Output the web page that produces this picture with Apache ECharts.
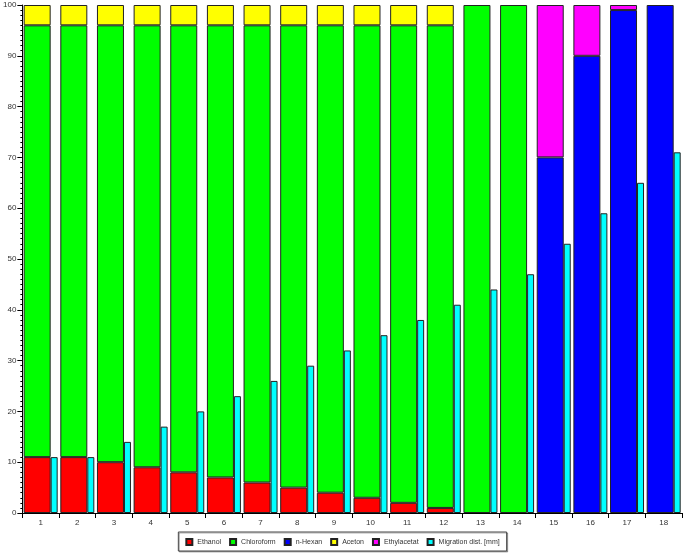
<!DOCTYPE html>
<html><head><meta charset="utf-8">
<script src="https://cdn.jsdelivr.net/npm/echarts@6/dist/echarts.min.js"></script>
<style>html,body{margin:0;padding:0;background:#fff}#c{width:685px;height:553px}</style>
</head><body><div id="c"></div>
<script>
const categories = ['1','2','3','4','5','6','7','8','9','10','11','12','13','14','15','16','17','18'];
const ethanol     = [11,11,10,9,8,7,6,5,4,3,2,1,null,null,null,null,null,null];
const chloroform  = [85,85,86,87,88,89,90,91,92,93,94,95,100,100,null,null,null,null];
const nHexan      = [null,null,null,null,null,null,null,null,null,null,null,null,null,null,70,90,99,100];
const aceton      = [4,4,4,4,4,4,4,4,4,4,4,4,null,null,null,null,null,null];
const ethylacetat = [null,null,null,null,null,null,null,null,null,null,null,null,null,null,30,10,1,null];
const migration   = [11,11,14,17,20,23,26,29,32,35,38,41,44,47,53,59,65,71];

const border = {borderColor:'#222', borderWidth:1};
function stackSeries(name, data, color){
  return {name, type:'bar', stack:'s', data, barWidth:27, barGap:'0%',
    itemStyle:Object.assign({color}, border)};
}
const chart = echarts.init(document.getElementById('c'));
chart.setOption({
  animation:false,
  textStyle:{fontFamily:'Liberation Sans, Arial, sans-serif'},
  grid:{left:22,right:3,top:5,bottom:40},
  legend:{bottom:2,left:'center',icon:'rect',itemWidth:6,itemHeight:6,itemGap:8,
    borderColor:'#444',borderWidth:1,padding:[6,7,5,7],
    shadowColor:'rgba(0,0,0,0.3)',shadowOffsetX:1,shadowOffsetY:1,shadowBlur:0,
    backgroundColor:'#fff',
    textStyle:{fontSize:7,color:'#333'},
    data:['Ethanol','Chloroform','n-Hexan','Aceton','Ethylacetat','Migration dist. [mm]']},
  xAxis:{type:'category',data:categories,
    axisLine:{lineStyle:{color:'#000'}},
    axisTick:{show:true,alignWithLabel:false,length:5,lineStyle:{color:'#000'}},
    axisLabel:{fontSize:8,color:'#333',margin:6}},
  yAxis:{type:'value',min:0,max:100,interval:10,
    axisLine:{show:true,lineStyle:{color:'#000'}},
    axisTick:{show:true,length:5,lineStyle:{color:'#000'}},
    minorTick:{show:true,splitNumber:10,length:2,lineStyle:{color:'#000'}},
    splitLine:{show:false},
    axisLabel:{fontSize:8,color:'#333',margin:6}},
  series:[
    stackSeries('Ethanol',ethanol,'#ff0000'),
    stackSeries('Chloroform',chloroform,'#00ff00'),
    stackSeries('n-Hexan',nHexan,'#0000ff'),
    stackSeries('Aceton',aceton,'#ffff00'),
    stackSeries('Ethylacetat',ethylacetat,'#ff00ff'),
    {name:'Migration dist. [mm]',type:'bar',data:migration,barWidth:7,barGap:'0%',
      itemStyle:Object.assign({color:'#00ffff'},border)}
  ]
});
</script></body></html>
